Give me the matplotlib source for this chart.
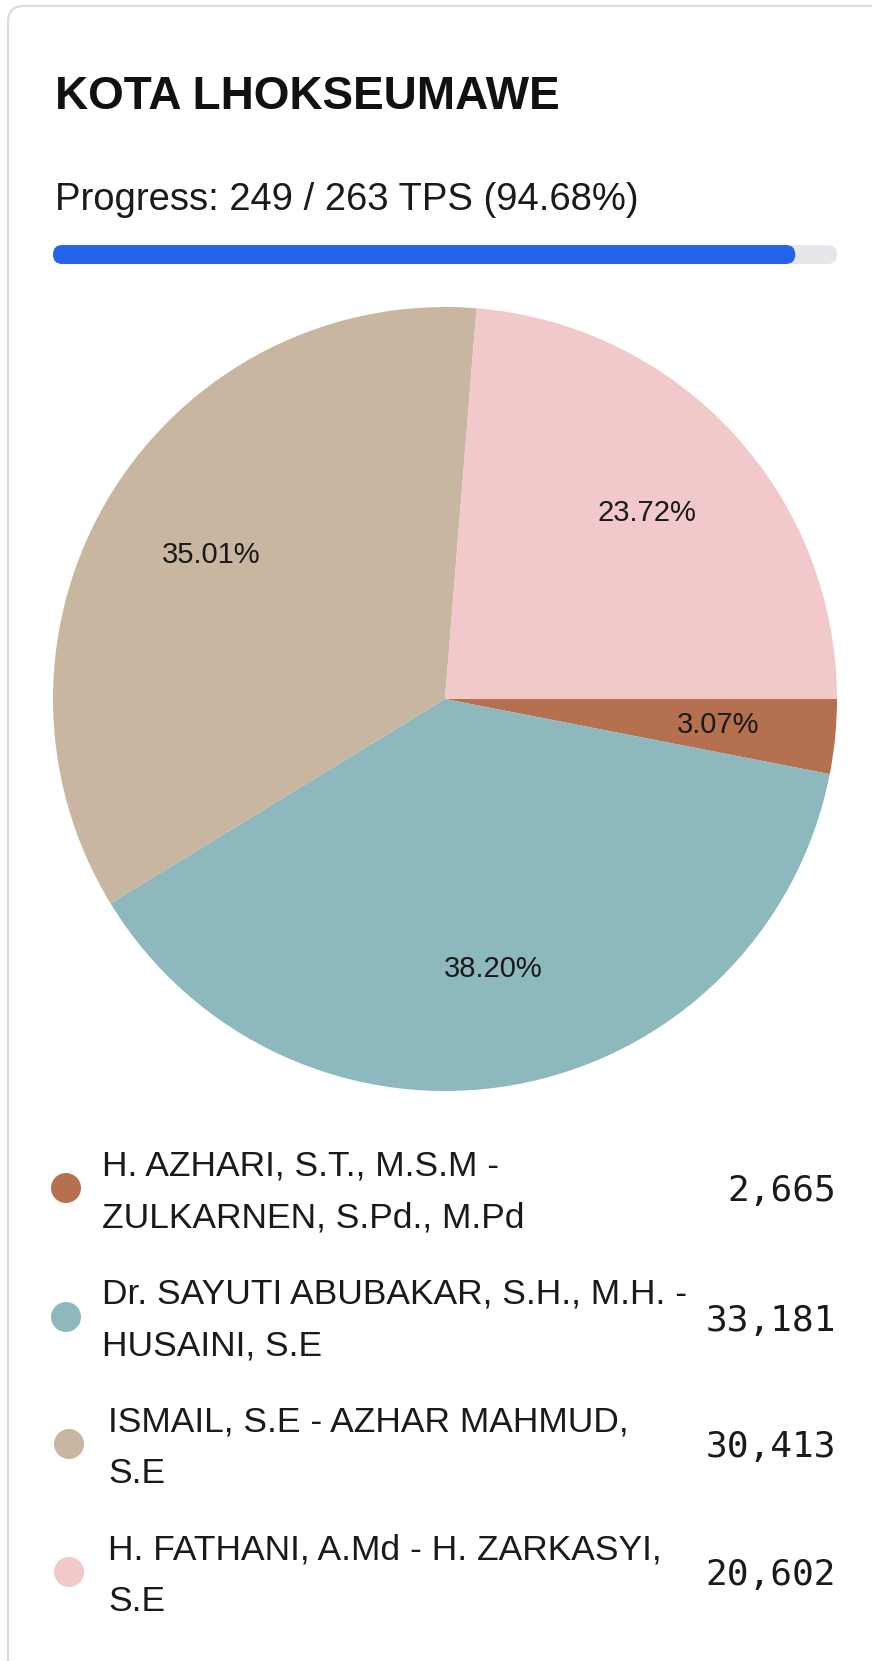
import matplotlib
matplotlib.use("Agg")
import matplotlib.pyplot as plt
from matplotlib.patches import FancyBboxPatch, Circle

# data
title = "KOTA LHOKSEUMAWE"
tps_done = 249
tps_total = 263
candidates = [
    "H. AZHARI, S.T., M.S.M -\nZULKARNEN, S.Pd., M.Pd",
    "Dr. SAYUTI ABUBAKAR, S.H., M.H. -\nHUSAINI, S.E",
    "ISMAIL, S.E - AZHAR MAHMUD,\nS.E",
    "H. FATHANI, A.Md - H. ZARKASYI,\nS.E",
]
votes = [2665, 33181, 30413, 20602]
colors = ["#b5714f", "#8db8bd", "#c8b6a0", "#f2c9cb"]

W, H = 872, 1661
plt.rcParams['font.family'] = ['Liberation Sans', 'DejaVu Sans']

fig = plt.figure(figsize=(W / 100, H / 100), dpi=100)
fig.patch.set_facecolor("white")

# pixel-space overlay axes
ax = fig.add_axes([0, 0, 1, 1])
ax.set_xlim(0, W)
ax.set_ylim(H, 0)
ax.axis("off")

# card outline (runs off right and bottom)
card = FancyBboxPatch((8, 6), W + 40, H + 40,
                      boxstyle="round,pad=0,rounding_size=16",
                      fc="white", ec="#dcdcdc", lw=1.6)
ax.add_patch(card)

ax.text(55, 109, title, fontsize=33, fontweight="bold", color="#111111",
        va="baseline", ha="left")

pct = 100.0 * tps_done / tps_total
ax.text(55, 210, f"Progress: {tps_done} / {tps_total} TPS ({pct:.2f}%)",
        fontsize=27.5, color="#1a1a1a", va="baseline", ha="left")

# progress bar
bx0, bx1, by, bh = 53, 837, 245, 19
track = FancyBboxPatch((bx0, by), bx1 - bx0, bh,
                       boxstyle=f"round,pad=0,rounding_size={bh/2}",
                       fc="#e5e7eb", ec="none")
ax.add_patch(track)
fill = FancyBboxPatch((bx0, by), (bx1 - bx0) * pct / 100.0, bh,
                      boxstyle=f"round,pad=0,rounding_size={bh/2}",
                      fc="#2563eb", ec="none")
ax.add_patch(fill)

# legend
row_centers = [1188, 1317, 1444, 1572]
dot_x = [66, 66, 69, 69]
text_x = [102, 102, 108, 108]
for i, (name, v, c) in enumerate(zip(candidates, votes, colors)):
    yc = row_centers[i]
    ax.add_patch(Circle((dot_x[i], yc), 15, fc=c, ec="none"))
    l1, l2 = name.split("\n")
    ax.text(text_x[i], yc - 26 + 13, l1, fontsize=25.5, color="#1a1a1a",
            va="baseline", ha="left")
    ax.text(text_x[i], yc + 26 + 13, l2, fontsize=25.5, color="#1a1a1a",
            va="baseline", ha="left")
    ax.text(836, yc + 13.5, f"{v:,}", fontsize=26, family="DejaVu Sans Mono",
            color="#1a1a1a", va="baseline", ha="right")

# pie
cx, cy, r = 445, 699, 392
pax = fig.add_axes([(cx - r) / W, (H - cy - r) / H, 2 * r / W, 2 * r / H])
wedges, texts, autotexts = pax.pie(
    votes, colors=colors, startangle=0, counterclock=False,
    autopct="%.2f%%", pctdistance=0.70, radius=1.0,
    wedgeprops=dict(linewidth=0),
    textprops=dict(fontsize=21, color="#1a1a1a"))
pax.set_xlim(-1, 1)
pax.set_ylim(-1, 1)
pax.set_aspect("equal")
pax.axis("off")

fig.savefig("out.png", dpi=100, facecolor="white")
